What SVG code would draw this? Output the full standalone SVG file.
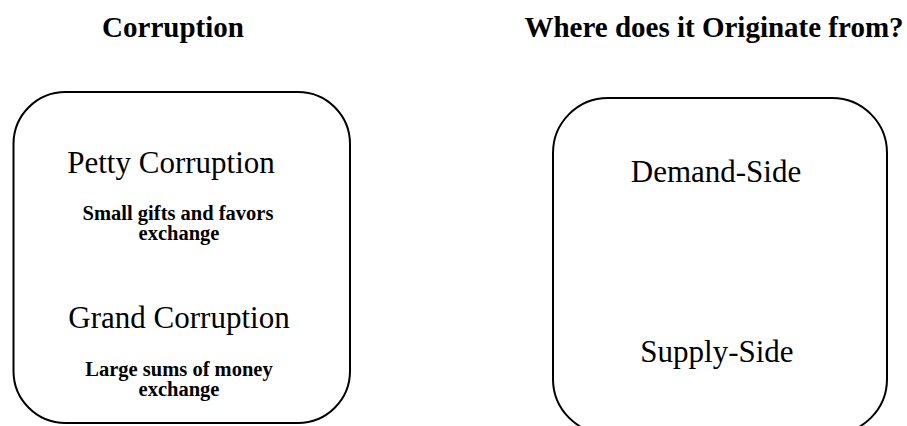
<svg xmlns="http://www.w3.org/2000/svg" width="907" height="426" viewBox="0 0 907 426">
  <style>
    .title { font-family: "Liberation Serif", "Times New Roman", serif; font-weight: bold; font-size: 29px; fill: #000; text-anchor: middle; }
    .label { font-family: "Liberation Serif", "Times New Roman", serif; font-size: 31px; fill: #000; text-anchor: middle; }
    .note { font-family: "Liberation Serif", "Times New Roman", serif; font-weight: bold; font-size: 20.5px; fill: #000; text-anchor: middle; }
    .box { fill: #fff; stroke: #000; stroke-width: 2; }
  </style>
  <rect width="907" height="426" fill="#fff"/>

  <!-- column headings -->
  <g id="heading-corruption">
    <text class="title" x="173" y="37">Corruption</text>
  </g>
  <g id="heading-origin">
    <text class="title" x="714" y="37">Where does it Originate from?</text>
  </g>

  <!-- types of corruption -->
  <g id="types">
    <rect class="box" x="13.5" y="92" width="336.5" height="331" rx="52" ry="52"/>
    <text class="label" x="171" y="173">Petty Corruption</text>
    <text class="note" x="178" y="220">Small gifts and favors</text>
    <text class="note" x="179" y="240">exchange</text>
    <text class="label" x="179" y="328">Grand Corruption</text>
    <text class="note" x="179" y="376">Large sums of money</text>
    <text class="note" x="179" y="396">exchange</text>
  </g>

  <!-- sources of corruption -->
  <g id="sources">
    <rect class="box" x="553" y="98" width="334" height="336" rx="55" ry="55"/>
    <text class="label" x="716" y="182">Demand-Side</text>
    <text class="label" x="717" y="362">Supply-Side</text>
  </g>

  <g id="connectors"/>
</svg>
